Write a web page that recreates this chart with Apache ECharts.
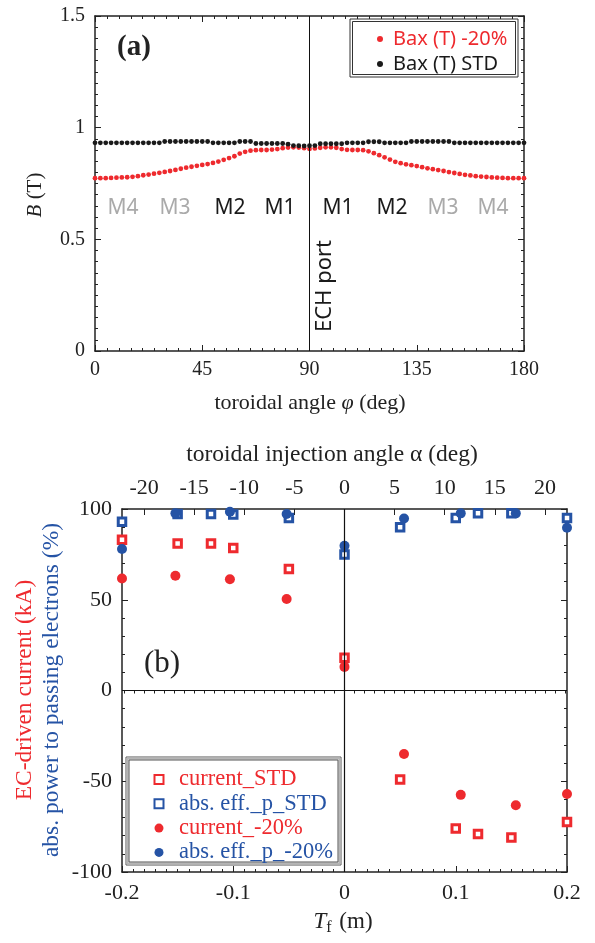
<!DOCTYPE html>
<html><head><meta charset="utf-8">
<script src="https://cdn.jsdelivr.net/npm/echarts@6/dist/echarts.min.js"></script>
<style>html,body{margin:0;padding:0;background:#fff}#c{width:595px;height:943px}</style>
</head><body><div id="c"></div>
<script>
// ---------- Panel (a) data ----------
const phi = [0,2.25,4.5,6.75,9,11.25,13.5,15.75,18,20.25,22.5,24.75,27,29.25,31.5,33.75,36,38.25,40.5,42.75,
  45,47.25,49.5,51.75,54,56.25,58.5,60.75,63,65.25,67.5,69.75,72,74.25,76.5,78.75,81,83.25,85.5,87.75,
  90,92.25,94.5,96.75,99,101.25,103.5,105.75,108,110.25,112.5,114.75,117,119.25,121.5,123.75,126,128.25,130.5,132.75,
  135,137.25,139.5,141.75,144,146.25,148.5,150.75,153,155.25,157.5,159.75,162,164.25,166.5,168.75,171,173.25,175.5,177.75,180];
const bax20 = [0.774,0.774,0.774,0.775,0.776,0.777,0.778,0.780,0.783,0.787,
  0.790,0.794,0.798,0.802,0.806,0.811,0.816,0.821,0.825,0.829,
  0.833,0.837,0.842,0.848,0.856,0.864,0.872,0.884,0.892,0.897,
  0.899,0.900,0.900,0.902,0.904,0.908,0.911,0.912,0.911,0.908,
  0.905,
  0.907,0.910,0.912,0.912,0.910,0.904,0.901,0.900,0.900,0.899,
  0.894,0.886,0.877,0.867,0.857,0.847,0.841,0.836,0.832,0.828,
  0.823,0.818,0.814,0.810,0.806,0.801,0.797,0.793,0.789,0.786,
  0.783,0.781,0.779,0.777,0.776,0.775,0.774,0.774,0.774,0.774];
const baxStd = [0.932,0.932,0.932,0.932,0.932,0.932,0.932,0.932,0.932,0.932,0.932,0.932,0.932,
  0.938,0.938,0.938,0.938,0.938,0.938,0.938,0.938,0.938,
  0.932,0.932,0.932,0.932,0.932,
  0.938,0.938,0.938,
  0.929,0.929,0.929,0.929,0.929,0.929,
  0.926,
  0.920,0.919,0.918,0.919,0.920,
  0.928,0.928,0.928,0.928,0.928,
  0.932,0.932,0.932,0.932,
  0.937,0.937,0.937,
  0.932,0.932,0.932,0.932,0.932,
  0.938,0.938,0.938,0.938,0.938,0.938,0.938,0.938,
  0.932,0.932,0.932,0.932,0.932,0.932,0.932,0.932,0.932,0.932,0.932,0.932,0.932,0.932];
const mLabels = ['M4','M3','M2','M1','M1','M2','M3','M4'];

// ---------- Panel (b) data ----------
const tfStd = [-0.2,-0.15,-0.12,-0.1,-0.05,0,0.05,0.1,0.12,0.15,0.2];
const currentStd = [83,81,81,78.5,67,18,-49,-76,-79,-81,-72.5];
const absEffStd = [93,97.3,97.3,97,95,75,90,95,97.6,97.6,95];
const tf20 = [-0.2,-0.152,-0.103,-0.052,0,0.0535,0.1045,0.154,0.2];
const current20 = [61.7,63.2,61.3,50.4,13,-35,-57.5,-63.2,-57];
const absEff20 = [78,97.6,98.5,97.2,79.7,94.8,97.6,97.6,89.7];
const alphaTicks = [-20,-15,-10,-5,0,5,10,15,20];
const alphaMinor = [-22,-21,-20,-19,-18,-17,-16,-15,-14,-13,-12,-11,-10,-9,-8,-7,-6,-5,-4,-3,-2,-1,0,
  1,2,3,4,5,6,7,8,9,10,11,12,13,14,15,16,17,18,19,20,21,22];

const RED = '#ee2a2e', BLUE = '#2553a5', BLK = '#1a1a1a';
const serif = '"Liberation Serif","Times New Roman",serif';
const sans = '"Noto Sans","Open Sans",sans-serif';

const zip = (xs, ys) => xs.map((x, i) => [x, ys[i]]);

function axisBase(o) {
  return Object.assign({
    type: 'value', splitLine: {show: false},
    axisLine: {show: true, onZero: false, lineStyle: {color: '#222', width: 1.5}},
    axisTick: {show: true, inside: true, length: 6, lineStyle: {color: '#222', width: 1}},
    minorTick: {show: true, length: 3, lineStyle: {color: '#222', width: 1}},
    axisLabel: {show: false}
  }, o);
}

const chart = echarts.init(document.getElementById('c'), null, {renderer: 'canvas'});

const gA = {left: 95, top: 16, width: 429, height: 335};
const gB = {left: 122, top: 509, width: 445, height: 363};

const option = {
  animation: false,
  backgroundColor: '#fff',
  grid: [gA, gB],
  xAxis: [
    axisBase({gridIndex: 0, position: 'bottom', min: 0, max: 180, interval: 45,
      minorTick: {show: true, splitNumber: 9, length: 3, lineStyle: {color: '#222'}},
      axisLabel: {show: true, fontFamily: serif, fontSize: 20, color: '#222', margin: 9}}),
    axisBase({gridIndex: 0, position: 'top', min: 0, max: 180, interval: 45,
      minorTick: {show: true, splitNumber: 9, length: 3, lineStyle: {color: '#222'}}}),
    axisBase({gridIndex: 1, position: 'bottom', min: -0.2, max: 0.2, interval: 0.1,
      minorTick: {show: true, splitNumber: 10, length: 3, lineStyle: {color: '#222'}},
      axisLabel: {show: true, fontFamily: serif, fontSize: 22, color: '#222', margin: 10}}),
    axisBase({gridIndex: 1, position: 'top', min: -22.2, max: 22.2,
      minorTick: {show: false},
      axisTick: {show: true, inside: true, length: 6, customValues: alphaTicks, lineStyle: {color: '#222'}},
      axisLabel: {show: true, customValues: alphaTicks, fontFamily: serif, fontSize: 22, color: '#222', margin: 10}}),
    axisBase({gridIndex: 1, position: 'top', min: -22.2, max: 22.2,
      axisLine: {show: false}, minorTick: {show: false},
      axisTick: {show: true, inside: true, length: 3, customValues: alphaMinor, lineStyle: {color: '#222'}}})
  ],
  yAxis: [
    axisBase({gridIndex: 0, position: 'left', min: 0, max: 1.5, interval: 0.5,
      minorTick: {show: true, splitNumber: 10, length: 3, lineStyle: {color: '#222'}},
      axisLabel: {show: true, fontFamily: serif, fontSize: 20, color: '#222', margin: 10}}),
    axisBase({gridIndex: 0, position: 'right', min: 0, max: 1.5, interval: 0.5,
      minorTick: {show: true, splitNumber: 10, length: 3, lineStyle: {color: '#222'}}}),
    axisBase({gridIndex: 1, position: 'left', min: -100, max: 100, interval: 50,
      minorTick: {show: true, splitNumber: 5, length: 3, lineStyle: {color: '#222'}},
      axisLabel: {show: true, fontFamily: serif, fontSize: 22, color: '#222', margin: 10}}),
    axisBase({gridIndex: 1, position: 'right', min: -100, max: 100, interval: 50,
      minorTick: {show: true, splitNumber: 5, length: 3, lineStyle: {color: '#222'}}})
  ],
  legend: [
    {
      orient: 'vertical', left: 372, top: 24, itemWidth: 6, itemHeight: 6, itemGap: 5, z: 10,
      textStyle: {fontFamily: sans, fontSize: 20, lineHeight: 20, padding: [0, 0, 0, 5]},
      data: [
        {name: 'Bax (T) -20%', textStyle: {color: RED}},
        {name: 'Bax (T) STD', textStyle: {color: BLK}}
      ]
    },
    {
      orient: 'vertical', left: 148.5, top: 763, itemWidth: 9, itemHeight: 9, itemGap: 1.3, z: 10,
      textStyle: {fontFamily: serif, fontSize: 22.5, lineHeight: 23, padding: [0, 0, 0, 10.5]},
      data: [
        {name: 'current_STD', textStyle: {color: RED}},
        {name: 'abs. eff._p_STD', textStyle: {color: BLUE}},
        {name: 'current_-20%', textStyle: {color: RED}},
        {name: 'abs. eff._p_-20%', textStyle: {color: BLUE}}
      ]
    }
  ],
  series: [
    {
      name: 'Bax (T) -20%', type: 'scatter', xAxisIndex: 0, yAxisIndex: 0,
      symbol: 'circle', symbolSize: 4.8, itemStyle: {color: RED, opacity: 1},
      data: zip(phi, bax20)
    },
    {
      name: 'Bax (T) STD', type: 'scatter', xAxisIndex: 0, yAxisIndex: 0,
      symbol: 'circle', symbolSize: 4.8, itemStyle: {color: BLK, opacity: 1},
      data: zip(phi, baxStd),
      markLine: {silent: true, symbol: ['none', 'none'], label: {show: false},
        lineStyle: {color: '#111', width: 1, type: 'solid'}, data: [{xAxis: 90}]}
    },
    {
      name: 'current_STD', type: 'scatter', xAxisIndex: 2, yAxisIndex: 2,
      symbol: 'rect', symbolSize: 7.5,
      itemStyle: {color: '#fff', borderColor: RED, borderWidth: 3, opacity: 1},
      data: zip(tfStd, currentStd),
      markLine: {silent: true, symbol: ['none', 'none'], label: {show: false},
        lineStyle: {color: '#111', width: 1.2, type: 'solid'}, data: [{xAxis: 0}, {yAxis: 0}]}
    },
    {
      name: 'abs. eff._p_STD', type: 'scatter', xAxisIndex: 2, yAxisIndex: 2,
      symbol: 'rect', symbolSize: 7.5,
      itemStyle: {color: '#fff', borderColor: BLUE, borderWidth: 3, opacity: 1},
      data: zip(tfStd, absEffStd)
    },
    {
      name: 'current_-20%', type: 'scatter', xAxisIndex: 2, yAxisIndex: 2,
      symbol: 'circle', symbolSize: 10, itemStyle: {color: RED, opacity: 1},
      data: zip(tf20, current20)
    },
    {
      name: 'abs. eff._p_-20%', type: 'scatter', xAxisIndex: 2, yAxisIndex: 2,
      symbol: 'circle', symbolSize: 10, itemStyle: {color: BLUE, opacity: 1},
      data: zip(tf20, absEff20)
    }
  ],
  graphic: []
};

const G = option.graphic;
function txt(x, y, text, font, fill, extra) {
  G.push(Object.assign({type: 'text', x: x, y: y, z: 20, silent: true,
    style: Object.assign({text: text, font: font, fill: fill, align: 'center', verticalAlign: 'middle'}, extra || {})}));
}
// Panel (a) annotations
txt(134, 48, '(a)', 'bold 29px ' + serif, '#222');
const mX = [123, 175, 230, 280, 338, 392, 443, 493];
const mCol = ['#aaaaaa', '#aaaaaa', '#1a1a1a', '#1a1a1a', '#1a1a1a', '#1a1a1a', '#aaaaaa', '#aaaaaa'];
mLabels.forEach((m, i) => txt(mX[i], 208, m, '21px ' + sans, mCol[i]));
G.push({type: 'text', x: 325, y: 286, rotation: Math.PI / 2, z: 20, silent: true,
  style: {text: 'ECH port', font: '22px ' + sans, fill: '#1a1a1a', align: 'center', verticalAlign: 'middle'}});
txt(310, 403, '{n|toroidal angle }{i|φ}{n| (deg)}', '22px ' + serif, '#222',
  {rich: {n: {fontFamily: serif, fontSize: 22, fill: '#222'}, i: {fontFamily: serif, fontSize: 22, fontStyle: 'italic', fill: '#222'}}});
G.push({type: 'text', x: 35, y: 195, rotation: Math.PI / 2, z: 20, silent: true,
  style: {text: '{i|B}{n| (T)}', font: '21px ' + serif, fill: '#222', align: 'center', verticalAlign: 'middle',
    rich: {n: {fontFamily: serif, fontSize: 21, fill: '#222'}, i: {fontFamily: serif, fontSize: 21, fontStyle: 'italic', fill: '#222'}}}});
// Legend (a) double frame
G.push({type: 'rect', z: 5, silent: true, shape: {x: 350, y: 19, width: 168, height: 58}, style: {fill: '#fff', stroke: '#333', lineWidth: 1}});
G.push({type: 'rect', z: 6, silent: true, shape: {x: 352.5, y: 21.5, width: 163, height: 53}, style: {fill: 'none', stroke: '#333', lineWidth: 1}});

// Panel (b) annotations
txt(162, 664, '(b)', '31px ' + serif, '#222');
txt(332, 455, 'toroidal injection angle α (deg)', '23.5px ' + serif, '#222');
txt(343, 922, '{i|T}{s|f}{n| (m)}', '23px ' + serif, '#222',
  {rich: {i: {fontFamily: serif, fontSize: 23, fontStyle: 'italic', fill: '#222'},
    s: {fontFamily: serif, fontSize: 16, fill: '#222', padding: [12, 2, 0, 0]},
    n: {fontFamily: serif, fontSize: 23, fill: '#222'}}});
G.push({type: 'text', x: 25, y: 690, rotation: Math.PI / 2, z: 20, silent: true,
  style: {text: 'EC-driven current (kA)', font: '23.5px ' + serif, fill: RED, align: 'center', verticalAlign: 'middle'}});
G.push({type: 'text', x: 52, y: 690, rotation: Math.PI / 2, z: 20, silent: true,
  style: {text: 'abs. power to passing electrons (%)', font: '23.5px ' + serif, fill: BLUE, align: 'center', verticalAlign: 'middle'}});
// Legend (b) double frame
G.push({type: 'rect', z: 5, silent: true, shape: {x: 126, y: 757, width: 215, height: 108}, style: {fill: '#fff', stroke: '#555', lineWidth: 1}});
G.push({type: 'rect', z: 6, silent: true, shape: {x: 127.5, y: 758.5, width: 212, height: 105}, style: {fill: 'none', stroke: '#b5b5b5', lineWidth: 2}});
G.push({type: 'rect', z: 6, silent: true, shape: {x: 129, y: 760, width: 209, height: 102}, style: {fill: 'none', stroke: '#555', lineWidth: 1}});

chart.setOption(option);
</script>
</body></html>
